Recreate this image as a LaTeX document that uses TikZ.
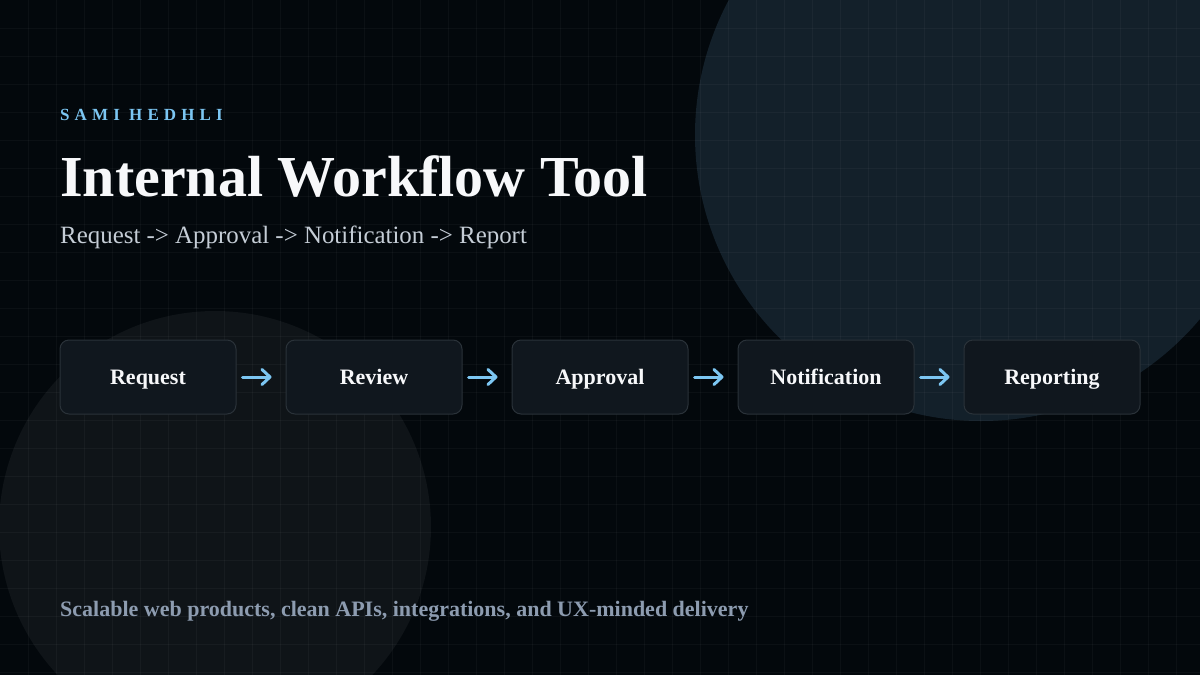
\documentclass[tikz,border=0pt]{standalone}
\usepackage{fontspec}
\setmainfont{Liberation Serif}
\usetikzlibrary{arrows.meta}
\definecolor{bg}{HTML}{03080C}
\definecolor{bigc}{HTML}{13202A}
\definecolor{smallc}{HTML}{0F1418}
\definecolor{boxfill}{HTML}{10171E}
\definecolor{boxline}{HTML}{2A3239}
\definecolor{sky}{HTML}{7CC6F2}
\definecolor{subt}{HTML}{C5CDD6}
\definecolor{foot}{HTML}{8D9CB0}
\definecolor{titlec}{HTML}{F7F8FA}
\tikzset{
  stepbox/.style={draw=boxline, line width=1pt, fill=boxfill, rounded corners=9pt,
    minimum width=176pt, minimum height=74pt, inner sep=0pt, text=titlec,
    text height=18pt, text depth=4pt,
    font=\bfseries\fontsize{22}{26}\selectfont},
  flow/.style={draw=sky, line width=3pt, line cap=round,
    -{Straight Barb[length=8pt,width=15pt,line width=3pt,round]},
    shorten <=6pt, shorten >=14pt},
}
\begin{document}
\begin{tikzpicture}[x=1pt,y=-1pt]
\fill[bg] (0,0) rectangle (1200,675);
\useasboundingbox (0,0) rectangle (1200,675);
\begin{scope}
\clip (0,0) rectangle (1200,675);
\fill[bigc] (981,135) circle (286);
\fill[smallc] (215,527) circle (216);
\foreach \x in {28,56,...,1200} \draw[white, opacity=0.035, line width=1pt] (\x,0) -- (\x,675);
\foreach \y in {28,56,...,675} \draw[white, opacity=0.035, line width=1pt] (0,\y) -- (1200,\y);
\end{scope}
\node[anchor=base west, inner sep=0pt, text=sky, font=\bfseries\fontsize{17}{20}\selectfont\addfontfeature{LetterSpace=30}] (author) at (60,120) {SAMI HEDHLI};
\node[anchor=base west, inner sep=0pt, text=titlec, font=\bfseries\fontsize{58}{66}\selectfont] (title) at (60,196) {Internal Workflow Tool};
\node[anchor=base west, inner sep=0pt, text=subt, font=\fontsize{24.9}{28}\selectfont] (sub) at (60,243) {Request -> Approval -> Notification -> Report};
\node[stepbox] (s1) at (148,377) {Request};
\node[stepbox] (s2) at (374,377) {Review};
\node[stepbox] (s3) at (600,377) {Approval};
\node[stepbox] (s4) at (826,377) {Notification};
\node[stepbox] (s5) at (1052,377) {Reporting};
\draw[flow] (s1.east) -- (s2.west);
\draw[flow] (s2.east) -- (s3.west);
\draw[flow] (s3.east) -- (s4.west);
\draw[flow] (s4.east) -- (s5.west);
\node[anchor=base west, inner sep=0pt, text=foot, font=\bfseries\fontsize{22}{26}\selectfont] (foot) at (60,616) {Scalable web products, clean APIs, integrations, and UX-minded delivery};
\end{tikzpicture}
\end{document}
